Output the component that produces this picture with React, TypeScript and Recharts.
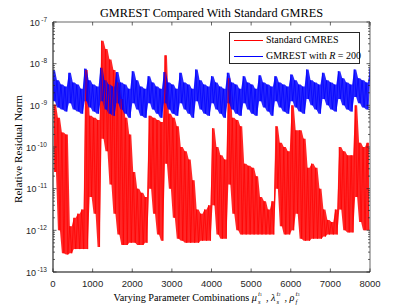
import { Area, ComposedChart, Line, ReferenceArea, XAxis, YAxis } from "recharts";

// x ticks (parameter combination index)
const xTicks = [0, 1000, 2000, 3000, 4000, 5000, 6000, 7000, 8000];
const yDecades = [-13, -12, -11, -10, -9, -8, -7];

// Standard GMRES: log10 of the highest / lowest residual in each block of 100 combinations
const redHigh = [
  -8.98, -9.3, -9.65, -9.7, -11.9, -11.7, -11.6, -11.5, -8.15, -9.25,
  -9.3, -9.35, -7.45, -7.65, -7.9, -8.15, -8.45, -8.85, -9.3, -9.7,
  -10.6, -11.0, -11.1, -11.2, -9.25, -9.3, -9.35, -9.4, -7.8, -9.2,
  -9.3, -9.5, -10.0, -10.1, -10.3, -10.8, -11.5, -11.6, -11.5, -11.4,
  -9.55, -10.0, -10.2, -10.3, -8.35, -9.3, -9.35, -9.5, -10.4, -10.45,
  -10.5, -10.7, -11.2, -11.3, -11.5, -11.3, -9.5, -9.9, -10.0, -10.1,
  -9.0, -9.6, -9.6, -9.8, -10.5, -10.4, -10.5, -11.0, -11.5, -11.75,
  -11.8, -11.5, -10.0, -10.1, -10.2, -10.2, -9.0, -9.9, -10.0, -9.9,
];
const redLow = [
  -10.6, -12.0, -12.55, -12.58, -12.55, -12.45, -12.45, -12.45, -12.45, -11.2,
  -11.6, -12.4, -9.8, -10.1, -10.9, -11.6, -12.1, -12.35, -12.35, -12.3,
  -12.3, -12.35, -12.35, -12.3, -11.0, -11.6, -12.1, -12.25, -10.4, -11.0,
  -11.7, -12.2, -12.25, -12.3, -12.3, -12.3, -12.3, -12.25, -12.25, -12.25,
  -11.4, -12.1, -12.2, -12.2, -10.9, -11.6, -12.0, -12.1, -12.1, -12.1,
  -12.1, -12.1, -12.1, -12.1, -12.1, -12.1, -11.0, -11.9, -12.1, -12.1,
  -12.0, -11.6, -12.2, -12.25, -12.25, -12.2, -12.2, -12.2, -12.15, -12.1,
  -12.1, -12.1, -11.5, -12.0, -12.05, -12.05, -11.2, -11.8, -12.0, -12.0,
];

// GMREST with R = 200: same blocks, peaks every 400 combinations
const blueHigh = [
  -8.16, -8.4, -8.5, -8.55, -8.22, -8.45, -8.5, -8.6, -8.12, -8.4,
  -8.5, -8.55, -8.1, -8.4, -8.5, -8.55, -8.2, -8.45, -8.5, -8.6,
  -8.18, -8.4, -8.55, -8.6, -8.3, -8.45, -8.55, -8.6, -8.2, -8.45,
  -8.5, -8.6, -8.22, -8.45, -8.5, -8.6, -8.14, -8.4, -8.5, -8.55,
  -8.3, -8.45, -8.55, -8.6, -8.22, -8.45, -8.5, -8.6, -8.3, -8.45,
  -8.5, -8.6, -8.28, -8.45, -8.5, -8.55, -8.3, -8.45, -8.5, -8.55,
  -8.26, -8.4, -8.5, -8.55, -8.14, -8.4, -8.45, -8.5, -8.22, -8.4,
  -8.45, -8.5, -8.18, -8.35, -8.45, -8.5, -8.14, -8.35, -8.4, -8.45,
  -8.1,
];
const blueLow = [
  -8.9, -9.05, -9.1, -9.15, -8.95, -9.1, -9.15, -9.2, -8.9, -9.05,
  -9.15, -9.2, -8.9, -9.1, -9.2, -9.25, -8.95, -9.1, -9.2, -9.3,
  -8.95, -9.1, -9.25, -9.3, -8.95, -9.1, -9.2, -9.3, -8.95, -9.1,
  -9.2, -9.25, -8.95, -9.1, -9.2, -9.3, -8.9, -9.1, -9.2, -9.25,
  -8.95, -9.1, -9.2, -9.3, -8.95, -9.1, -9.2, -9.25, -8.95, -9.1,
  -9.2, -9.25, -8.9, -9.05, -9.15, -9.25, -8.9, -9.05, -9.15, -9.2,
  -8.9, -9.05, -9.15, -9.2, -8.85, -9.0, -9.1, -9.2, -8.85, -9.0,
  -9.1, -9.15, -8.85, -9.0, -9.1, -9.15, -8.8, -8.95, -9.05, -9.1,
];

const BLOCK = 100;
const W = 409;
const H = 307;
const PLOT = { left: 53, right: 370, top: 22, bottom: 272 };
const X_AXIS_H = 30;
const Y_AXIS_W = 45;
const AXIS = "#262626";
const RED = "#ff0000";
const BLUE = "#0000ff";

// zigzag between the high and low of each block, plus the block band for the fill
function buildSeries(high: number[], low: number[], hiAt: number, loAt: number) {
  const line: { x: number; y: number }[] = [];
  const band: { x: number; band: [number, number] }[] = [];
  high.forEach((h, i) => {
    const l = low[i] ?? h;
    const r: [number, number] = [10 ** l, 10 ** h];
    line.push({ x: i * BLOCK + hiAt, y: 10 ** h });
    band.push({ x: i * BLOCK + hiAt, band: r });
    if (low[i] !== undefined) {
      line.push({ x: i * BLOCK + loAt, y: 10 ** l });
      band.push({ x: i * BLOCK + loAt, band: r });
    }
  });
  return { line, band };
}

const red = buildSeries(redHigh, redLow, 25, 75);
const blue = buildSeries(blueHigh, blueLow, 0, 50);

const yTicks: number[] = [];
yDecades.forEach((d) => {
  if (d === -7) yTicks.push(1e-7);
  else for (let m = 1; m <= 9; m++) yTicks.push(m * 10 ** d);
});

const sans = "'Liberation Sans', Arial, sans-serif";
const serif = "'Liberation Serif', 'Times New Roman', serif";

const XTick = (props: any) => {
  const { x, payload } = props;
  return (
    <g>
      <line x1={x} x2={x} y1={PLOT.bottom} y2={PLOT.bottom - 3.5} stroke={AXIS} strokeWidth={0.7} />
      <line x1={x} x2={x} y1={PLOT.top} y2={PLOT.top + 3.5} stroke={AXIS} strokeWidth={0.7} />
      <text x={x} y={PLOT.bottom + 14.5} textAnchor="middle" fontSize={9.5} fill={AXIS} fontFamily={sans}>
        {payload.value}
      </text>
    </g>
  );
};

const YTick = (props: any) => {
  const { y, payload } = props;
  const v = payload.value as number;
  const e = Math.round(Math.log10(v));
  const major = Math.abs(v / 10 ** e - 1) < 1e-6;
  const len = major ? 3.5 : 2;
  return (
    <g>
      <line x1={PLOT.left} x2={PLOT.left + len} y1={y} y2={y} stroke={AXIS} strokeWidth={0.7} />
      <line x1={PLOT.right} x2={PLOT.right - len} y1={y} y2={y} stroke={AXIS} strokeWidth={0.7} />
      {major && (
        <text x={PLOT.left - 6} y={y + 3.5} textAnchor="end" fontSize={9} fill={AXIS} fontFamily={sans}>
          10
          <tspan dx={1.5} dy={-4} fontSize={6.5}>{e}</tspan>
        </text>
      )}
    </g>
  );
};

// stacked superscript / subscript after a greek letter
const Script = ({ idx, sub }: { idx: string; sub: string }) => (
  <span style={{ position: "relative", display: "inline-block", width: 9, height: 0 }}>
    <span style={{ position: "absolute", left: 1, top: -11, fontSize: 6.5, fontStyle: "italic", lineHeight: "7px", whiteSpace: "nowrap" }}>
      i<span style={{ fontSize: 4.5, fontStyle: "normal" }}>{idx}</span>
    </span>
    <span style={{ position: "absolute", left: 1, top: -3, fontSize: 6.5, fontStyle: "italic", lineHeight: "7px" }}>{sub}</span>
  </span>
);

export default function App() {
  return (
    <div style={{ position: "absolute", left: 0, top: 0, width: W, height: H, background: "#fff" }}>
      <ComposedChart
        width={W}
        height={H}
        margin={{ top: PLOT.top, right: W - PLOT.right, bottom: H - PLOT.bottom - X_AXIS_H, left: PLOT.left - Y_AXIS_W }}
      >
        <XAxis
          dataKey="x"
          type="number"
          domain={[0, 8000]}
          ticks={xTicks}
          allowDataOverflow
          height={X_AXIS_H}
          tickSize={0}
          tickMargin={0}
          tick={(p: any) => <XTick {...p} />}
          axisLine={{ stroke: AXIS, strokeWidth: 0.7 }}
          interval={0}
        />
        <YAxis
          type="number"
          scale="log"
          domain={[1e-13, 1e-7]}
          ticks={yTicks}
          allowDataOverflow
          width={Y_AXIS_W}
          tickSize={0}
          tickMargin={0}
          tick={(p: any) => <YTick {...p} />}
          axisLine={{ stroke: AXIS, strokeWidth: 0.7 }}
          interval={0}
        />
        <Area data={red.band} dataKey="band" type="linear" stroke="none" fill={RED} fillOpacity={0.85} isAnimationActive={false} />
        <Line data={red.line} dataKey="y" type="linear" stroke={RED} strokeWidth={0.7} dot={false} isAnimationActive={false} />
        <Area data={blue.band} dataKey="band" type="linear" stroke="none" fill={BLUE} fillOpacity={0.85} isAnimationActive={false} />
        <Line data={blue.line} dataKey="y" type="linear" stroke={BLUE} strokeWidth={0.7} dot={false} isAnimationActive={false} />
        <ReferenceArea x1={0} x2={8000} y1={1e-13} y2={1e-7} fill="none" stroke={AXIS} strokeWidth={0.7} ifOverflow="visible" />
      </ComposedChart>

      <div style={{ position: "absolute", left: 0, width: 423, top: 6, textAlign: "center", fontFamily: serif, fontSize: 12.3, color: "#000" }}>
        GMREST Compared With Standard GMRES
      </div>

      <div style={{ position: "absolute", left: 0, width: 417, top: 292, lineHeight: "12px", textAlign: "center", fontFamily: serif, fontSize: 10.2, color: "#000", whiteSpace: "nowrap" }}>
        Varying Parameter Combinations{" "}
        <i>μ</i><Script idx="1" sub="s" />,{" "}
        <i>λ</i><Script idx="2" sub="s" />,{" "}
        <i>ρ</i><Script idx="3" sub="f" />
      </div>

      <div style={{ position: "absolute", left: 18, top: 149, width: 0, height: 0 }}>
        <div style={{ position: "absolute", left: 0, top: 0, transform: "translate(-50%, -50%) rotate(-90deg)", fontFamily: serif, fontSize: 11.2, whiteSpace: "nowrap", color: "#000" }}>
          Relative Residual Norm
        </div>
      </div>

      <div style={{ position: "absolute", left: 229, top: 32, width: 131, height: 32, boxSizing: "border-box", border: `0.8px solid ${AXIS}`, background: "#fff", fontFamily: serif, fontSize: 10 }}>
        <div style={{ position: "absolute", left: 4, top: 7, width: 29, height: 1, background: RED }} />
        <div style={{ position: "absolute", left: 36, top: 1, whiteSpace: "nowrap" }}>Standard GMRES</div>
        <div style={{ position: "absolute", left: 4, top: 23, width: 29, height: 1, background: BLUE }} />
        <div style={{ position: "absolute", left: 36, top: 17, whiteSpace: "nowrap" }}>
          GMREST with <i>R</i> = 200
        </div>
      </div>
    </div>
  );
}
